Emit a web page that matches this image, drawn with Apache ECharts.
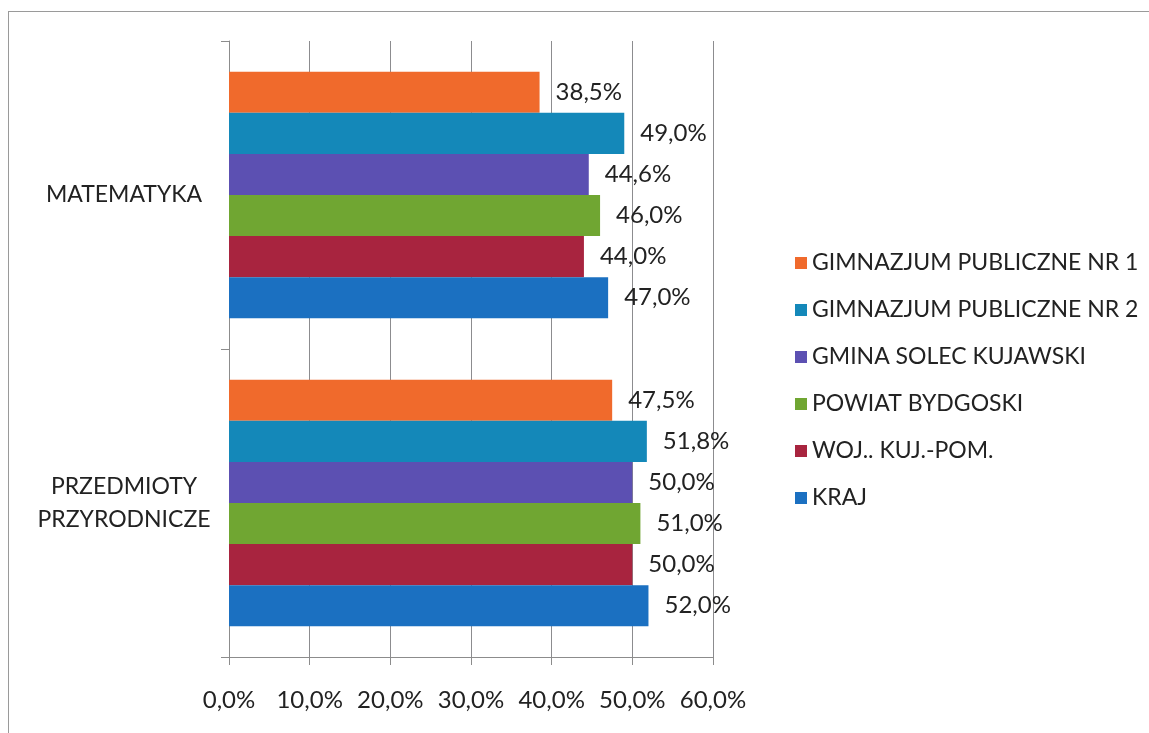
<!DOCTYPE html>
<html>
<head>
<meta charset="utf-8">
<script src="https://cdn.jsdelivr.net/npm/echarts@6/dist/echarts.min.js"></script>
<style>
  html, body { margin: 0; padding: 0; background: #fff; }
  #frame { position: absolute; left: 8px; top: 11px; right: 0; bottom: 0;
           border-left: 1px solid #9a9a9a; border-top: 1px solid #9a9a9a; }
  #chart { position: absolute; left: 0; top: 0; width: 1149px; height: 733px; }
</style>
</head>
<body>
<div id="frame"></div>
<div id="chart"></div>
<script>
// kategorie (oś pionowa) i serie
const CATEGORIES = ['MATEMATYKA', 'PRZEDMIOTY\nPRZYRODNICZE'];
const SERIES_NAMES = [
  'GIMNAZJUM PUBLICZNE NR 1',
  'GIMNAZJUM PUBLICZNE NR 2',
  'GMINA SOLEC KUJAWSKI',
  'POWIAT BYDGOSKI',
  'WOJ.. KUJ.-POM.',
  'KRAJ'
];
const GIM1 = [38.5, 47.5];
const GIM2 = [49.0, 51.8];
const GMINA = [44.6, 50.0];
const POWIAT = [46.0, 51.0];
const WOJ = [44.0, 50.0];
const KRAJ = [47.0, 52.0];
const X_MIN = 0, X_MAX = 60, X_STEP = 10;

const COLORS = ['#f06a2c', '#1488b9', '#5c50b2', '#70a632', '#a8243f', '#1b70c1'];
const FONT = 'Lato, "Open Sans", sans-serif';

(function () {
  const pct = v => v.toFixed(1).replace('.', ',') + '%';
  const values = [GIM1, GIM2, GMINA, POWIAT, WOJ, KRAJ];

  const chart = echarts.init(document.getElementById('chart'));
  chart.setOption({
    animation: false,
    color: COLORS,
    textStyle: { fontFamily: FONT },
    grid: { left: 229, right: 436, top: 41, bottom: 76 },
    legend: {
      orient: 'vertical',
      left: 790,
      top: 246,
      icon: 'rect',
      itemWidth: 12,
      itemHeight: 12,
      itemGap: 23,
      textStyle: { fontFamily: FONT, fontSize: 23, color: '#222', lineHeight: 24 },
      data: SERIES_NAMES
    },
    xAxis: {
      type: 'value',
      min: X_MIN,
      max: X_MAX,
      interval: X_STEP,
      axisLine: { show: true, lineStyle: { color: '#8c8c8c', width: 1 } },
      axisTick: { show: true, length: 8, lineStyle: { color: '#8c8c8c' } },
      splitLine: { show: true, lineStyle: { color: '#8c8c8f', width: 1 } },
      axisLabel: {
        formatter: v => pct(v),
        fontFamily: FONT, fontSize: 24, color: '#222', margin: 31
      }
    },
    yAxis: {
      type: 'category',
      inverse: true,
      data: CATEGORIES,
      axisLine: { show: true, lineStyle: { color: '#8c8c8c', width: 1 } },
      axisTick: { show: true, length: 8, lineStyle: { color: '#8c8c8c' } },
      axisLabel: {
        fontFamily: FONT, fontSize: 23, color: '#222',
        align: 'center', margin: 105, lineHeight: 33
      }
    },
    series: SERIES_NAMES.map((name, i) => ({
      name: name,
      type: 'bar',
      data: values[i],
      barGap: '0%',
      barCategoryGap: '20%',
      label: {
        show: true,
        position: 'right',
        distance: 16,
        formatter: p => pct(p.value),
        fontFamily: FONT, fontSize: 24, color: '#222'
      }
    }))
  });
  window.addEventListener('resize', () => chart.resize());
})();
</script>
</body>
</html>
